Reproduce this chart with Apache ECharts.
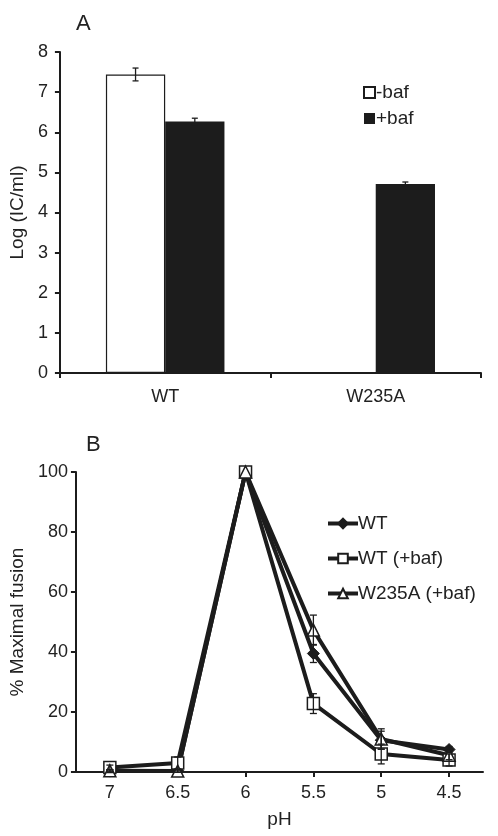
<!DOCTYPE html>
<html>
<head>
<meta charset="utf-8">
<script src="https://cdn.jsdelivr.net/npm/echarts@6/dist/echarts.min.js"></script>
<style>
html,body{margin:0;padding:0;background:#fff;}
#chart{width:498px;height:836px;}
</style>
</head>
<body>
<div id="chart"></div>
<script>
// Panel A data
const catsA = ['WT', 'W235A'];
const minusBaf = [7.44, null];
const minusBafErr = [0.16, null];
const plusBaf = [6.27, 4.71];
const plusBafErr = [0.08, 0.05];
const yTicksA = [0, 1, 2, 3, 4, 5, 6, 7, 8];

// Panel B data
const pH = ['7', '6.5', '6', '5.5', '5', '4.5'];
const wt = [0.3, 0.4, 100, 39.5, 10.6, 7.5];
const wtErr = [0.5, 0.5, 0, 3, 3, 1];
const wtBaf = [1.5, 3.0, 100, 22.8, 6.0, 4.0];
const wtBafErr = [0.8, 2, 0, 3.3, 3.3, 2];
const w235a = [0.4, 0.3, 100, 47.3, 11.0, 5.6];
const w235aErr = [0.3, 0.3, 0, 5, 3.4, 1.5];

const INK = '#1c1c1c';
const FONT = 'Liberation Sans, Arial, sans-serif';
const barGapCat = 0.437;

function errA(vals, errs, side) {
  return {
    type: 'custom', xAxisIndex: 0, yAxisIndex: 0, z: 5, silent: true,
    data: vals.map((v, i) => [i, v, errs[i]]).filter(d => d[1] != null),
    renderItem: function (params, api) {
      const i = api.value(0), v = api.value(1), e = api.value(2);
      const band = api.size([1, 0])[0];
      const bw = band * (1 - barGapCat) / 2;
      const c = api.coord([i, v]);
      const x = c[0] + side * bw / 2;
      const hi = api.coord([i, v + e])[1];
      const lo = api.coord([i, v - e])[1];
      const cap = 3;
      const stroke = { stroke: INK, lineWidth: 1.3 };
      return { type: 'group', children: [
        { type: 'line', shape: { x1: x, y1: hi, x2: x, y2: lo }, style: stroke },
        { type: 'line', shape: { x1: x - cap, y1: hi, x2: x + cap, y2: hi }, style: stroke },
        { type: 'line', shape: { x1: x - cap, y1: lo, x2: x + cap, y2: lo }, style: stroke }
      ]};
    }
  };
}

function errB(vals, errs) {
  return {
    type: 'custom', xAxisIndex: 1, yAxisIndex: 1, z: 6, silent: true,
    data: vals.map((v, i) => [i, v, errs[i]]).filter(d => d[2] > 0),
    renderItem: function (params, api) {
      const i = api.value(0), v = api.value(1), e = api.value(2);
      const x = api.coord([i, v])[0];
      const hi = api.coord([i, v + e])[1];
      const lo = api.coord([i, Math.max(v - e, -2)])[1];
      const cap = 3.5;
      const stroke = { stroke: INK, lineWidth: 1.3 };
      return { type: 'group', children: [
        { type: 'line', shape: { x1: x, y1: hi, x2: x, y2: lo }, style: stroke },
        { type: 'line', shape: { x1: x - cap, y1: hi, x2: x + cap, y2: hi }, style: stroke },
        { type: 'line', shape: { x1: x - cap, y1: lo, x2: x + cap, y2: lo }, style: stroke }
      ]};
    }
  };
}

const axisLine = { show: true, lineStyle: { color: INK, width: 2 } };
const labelStyle = { color: '#222', fontSize: 18, fontFamily: FONT };

const chart = echarts.init(document.getElementById('chart'), null, { renderer: 'canvas' });
chart.setOption({
  animation: false,
  backgroundColor: '#fff',
  textStyle: { fontFamily: FONT },
  title: [
    { text: 'A', left: 71, top: 8, textStyle: { fontSize: 22, fontWeight: 'normal', color: '#222', fontFamily: FONT } },
    { text: 'B', left: 81, top: 429, textStyle: { fontSize: 22, fontWeight: 'normal', color: '#222', fontFamily: FONT } }
  ],
  legend: [
    {
      orient: 'vertical', left: 363, top: 83, padding: 0, itemWidth: 11, itemHeight: 11, itemGap: 7,
      icon: 'rect', textStyle: { fontSize: 19, color: '#222', fontFamily: FONT, padding: [0,0,0,-4] },
      data: ['-baf', '+baf']
    },
    {
      orient: 'vertical', left: 326, top: 514, padding: 0, itemWidth: 30, itemHeight: 12, itemGap: 16,
      lineStyle: { width: 4, color: INK },
      textStyle: { fontSize: 19, color: '#222', fontFamily: FONT, padding: [0,0,0,-5] },
      data: ['WT', 'WT (+baf)', 'W235A (+baf)']
    }
  ],
  grid: [
    { left: 58, top: 52, width: 423, height: 321 },
    { left: 69, top: 472, width: 414, height: 300 }
  ],
  xAxis: [
    {
      type: 'category', gridIndex: 0, data: catsA,
      axisLine: axisLine,
      axisTick: { show: true, length: 5, lineStyle: { color: INK, width: 2 } },
      axisLabel: Object.assign({ margin: 15 }, labelStyle)
    },
    {
      type: 'category', gridIndex: 1, data: pH, boundaryGap: true,
      axisLine: axisLine,
      axisTick: { show: true, alignWithLabel: true, length: 5, lineStyle: { color: INK, width: 2 } },
      axisLabel: Object.assign({ margin: 12 }, labelStyle),
      name: 'pH', nameLocation: 'middle', nameGap: 38,
      nameTextStyle: { fontSize: 19, color: '#222', fontFamily: FONT }
    }
  ],
  yAxis: [
    {
      type: 'value', gridIndex: 0, min: yTicksA[0], max: yTicksA[yTicksA.length - 1], interval: 1,
      axisLine: axisLine,
      axisTick: { show: true, length: 5, lineStyle: { color: INK, width: 2 } },
      splitLine: { show: false },
      axisLabel: Object.assign({ margin: 12 }, labelStyle),
      name: 'Log (IC/ml)', nameLocation: 'middle', nameGap: 25,
      nameTextStyle: { fontSize: 19, color: '#222', fontFamily: FONT }
    },
    {
      type: 'value', gridIndex: 1, min: 0, max: 100, interval: 20,
      axisLine: axisLine,
      axisTick: { show: true, length: 5, lineStyle: { color: INK, width: 2 } },
      splitLine: { show: false },
      axisLabel: Object.assign({ margin: 8 }, labelStyle),
      name: '% Maximal fusion', nameLocation: 'middle', nameGap: 44,
      nameTextStyle: { fontSize: 19, color: '#222', fontFamily: FONT }
    }
  ],
  series: [
    {
      name: '-baf', type: 'bar', xAxisIndex: 0, yAxisIndex: 0, data: minusBaf,
      barGap: '0%', barCategoryGap: (barGapCat * 100) + '%',
      itemStyle: { color: '#fff', borderColor: INK, borderWidth: 1.2 }
    },
    {
      name: '+baf', type: 'bar', xAxisIndex: 0, yAxisIndex: 0, data: plusBaf,
      barGap: '0%', barCategoryGap: (barGapCat * 100) + '%',
      itemStyle: { color: INK, borderColor: INK, borderWidth: 0 }
    },
    errA(minusBaf, minusBafErr, -1),
    errA(plusBaf, plusBafErr, 1),
    {
      name: 'WT', type: 'line', xAxisIndex: 1, yAxisIndex: 1, data: wt,
      symbol: 'diamond', symbolSize: 12, showSymbol: true,
      lineStyle: { color: INK, width: 4 },
      itemStyle: { color: INK, borderColor: INK, borderWidth: 1 }
    },
    {
      name: 'WT (+baf)', type: 'line', xAxisIndex: 1, yAxisIndex: 1, data: wtBaf,
      symbol: 'rect', symbolSize: 12, showSymbol: true,
      lineStyle: { color: INK, width: 4 },
      itemStyle: { color: '#fff', borderColor: INK, borderWidth: 1.5 }
    },
    {
      name: 'W235A (+baf)', type: 'line', xAxisIndex: 1, yAxisIndex: 1, data: w235a,
      symbol: 'triangle', symbolSize: 12, showSymbol: true,
      lineStyle: { color: INK, width: 4 },
      itemStyle: { color: '#fff', borderColor: INK, borderWidth: 1.5 }
    },
    errB(wt, wtErr),
    errB(wtBaf, wtBafErr),
    errB(w235a, w235aErr)
  ]
});
</script>
</body>
</html>
